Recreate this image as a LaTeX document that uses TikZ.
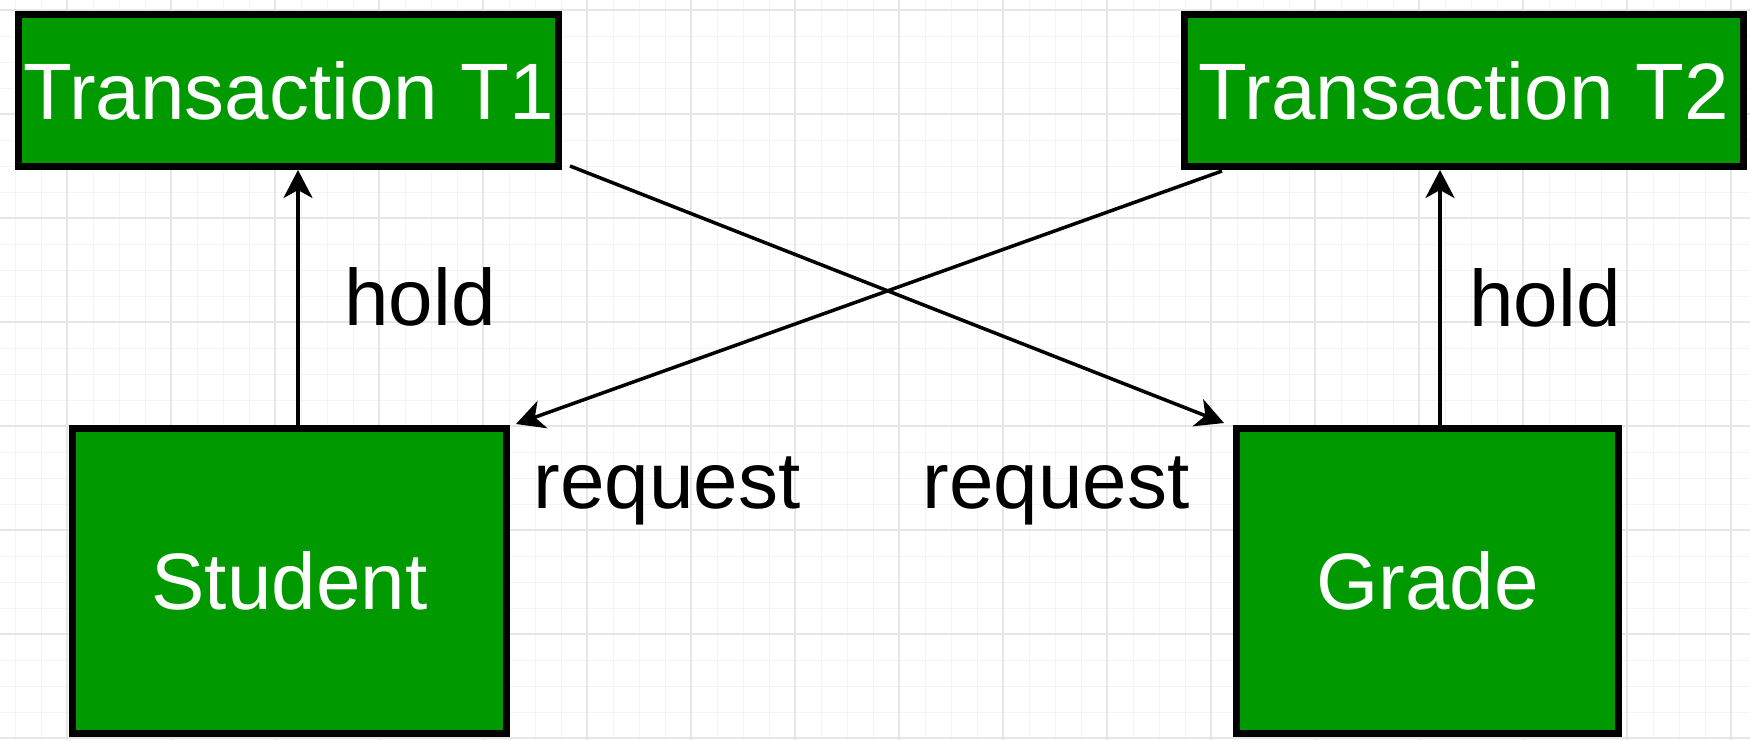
\documentclass[tikz,border=0pt]{standalone}
\usepackage{fontspec}
\setmainfont{Liberation Sans}
\usetikzlibrary{arrows.meta}
\definecolor{boxgreen}{RGB}{0,153,0}
\definecolor{gridmajor}{RGB}{230,230,230}
\definecolor{gridminor}{RGB}{244,244,244}
\newcommand\diagfont{\fontsize{80}{96}\selectfont}
\begin{document}
\begin{tikzpicture}[x=1pt,y=-1pt,
  box/.style={draw=black, line width=7pt, fill=boxgreen, text=white, inner sep=0pt, font=\diagfont},
  lbl/.style={text=black, inner sep=0pt, anchor=base, font=\diagfont},
  arr/.style={line width=3.5pt, -{Stealth[length=28pt,width=29pt,inset=8pt]}},
  gminor/.style={draw=gridminor, line width=1pt},
  gmajor/.style={draw=gridmajor, line width=1.5pt}]
\useasboundingbox[fill=white] (0,0) rectangle (1750,740);
% grid
\foreach \i in {0,...,66} \draw[gminor] (15+26*\i,0) -- (15+26*\i,740);
\foreach \i in {0,...,28} \draw[gminor] (0,10+26*\i) -- (1750,10+26*\i);
\foreach \i in {0,...,16} \draw[gmajor] (67+104*\i,0) -- (67+104*\i,740);
\foreach \i in {0,...,7} \draw[gmajor] (0,10+104*\i) -- (1750,10+104*\i);
% boxes
\node[box, minimum width=540pt, minimum height=152pt] (T1) at (288.5,90.5) {Transaction T1};
\node[box, minimum width=559pt, minimum height=152pt] (T2) at (1464,90.5) {Transaction T2};
\node[box, minimum width=434pt, minimum height=305pt] (S) at (289.5,581) {Student};
\node[box, minimum width=382pt, minimum height=305pt] (G) at (1427.5,581) {Grade};
% hold arrows
\coordinate (h1) at ([shift={(8.5,0)}]S.north);
\coordinate (h2) at ([shift={(12.5,0)}]G.north);
\draw[arr] (h1) -- (h1 |- T1.south);
\draw[arr] (h2) -- (h2 |- T2.south);
% request arrows
\draw[arr] ([shift={(8,-4)}]T1.south east) -- ([shift={(-9,-2)}]G.north west);
\draw[arr] ([shift={(41,1)}]T2.south west) -- ([shift={(6,-1)}]S.north east);
% labels
\node[lbl] (hL) at (420,325) {hold};
\node[lbl] (hR) at (1545,326) {hold};
\node[lbl] (rL) at (667,508) {request};
\node[lbl] (rR) at (1056,508) {request};
\end{tikzpicture}
\end{document}
